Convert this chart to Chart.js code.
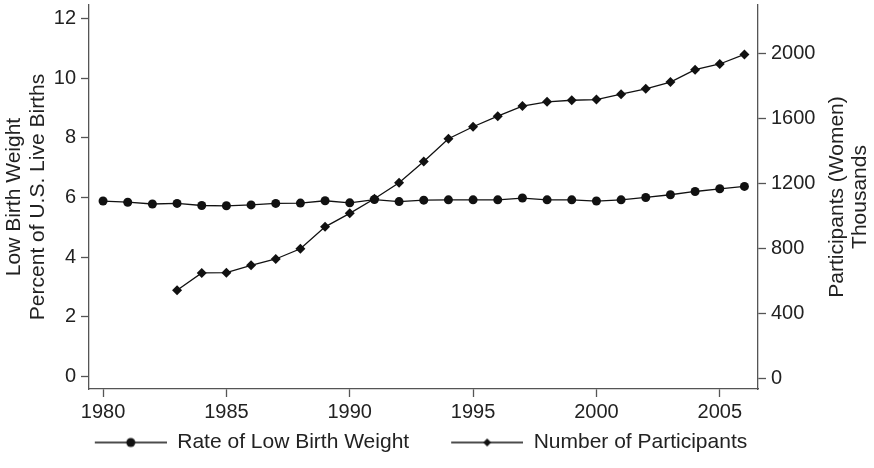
<!DOCTYPE html>
<html>
<head>
<meta charset="utf-8">
<title>Low Birth Weight and Participants</title>
<script src="https://cdn.jsdelivr.net/npm/chart.js@4.4.1/dist/chart.umd.min.js"></script>
<style>
  html, body { margin: 0; padding: 0; background: #fff; }
</style>
</head>
<body>
<canvas id="myChart" width="874" height="468"></canvas>
<script>
const years = [1980, 1981, 1982, 1983, 1984, 1985, 1986, 1987, 1988, 1989,
  1990, 1991, 1992, 1993, 1994, 1995, 1996, 1997, 1998, 1999,
  2000, 2001, 2002, 2003, 2004, 2005, 2006];
// percent of U.S. live births
const lowBirthWeight = [5.88, 5.84, 5.78, 5.80, 5.73, 5.72, 5.75, 5.80, 5.81, 5.89,
  5.82, 5.93, 5.86, 5.91, 5.92, 5.92, 5.92, 5.98, 5.92, 5.92,
  5.88, 5.92, 6.00, 6.09, 6.20, 6.29, 6.37];
// participants (women), thousands
const participants = [null, null, null, 541, 647, 649, 694, 733, 796, 931,
  1014, 1104, 1202, 1333, 1473, 1547, 1612, 1674, 1700, 1710,
  1714, 1747, 1780, 1822, 1898, 1933, 1992];
const xTicks = [1980, 1985, 1990, 1995, 2000, 2005];
const leftTicks = [0, 2, 4, 6, 8, 10, 12];
const rightTicks = [0, 400, 800, 1200, 1600, 2000];

const fontFamily = '"Liberation Sans", Arial, Helvetica, sans-serif';
const textColor = '#222';
const axisColor = '#555';
const lineColor = '#111';

function toPoints(values) {
  return years.map((y, i) => ({ x: y, y: values[i] })).filter(p => p.y !== null);
}

// line + marker picture for the legend, with some empty room on the left
function legendSwatch(style) {
  const c = document.createElement('canvas');
  c.width = 102;
  c.height = 14;
  const g = c.getContext('2d');
  g.strokeStyle = lineColor;
  g.lineWidth = 1.3;
  g.beginPath();
  g.moveTo(30, 7);
  g.lineTo(102, 7);
  g.stroke();
  g.fillStyle = lineColor;
  g.beginPath();
  if (style === 'circle') {
    g.arc(66, 7, 4.5, 0, Math.PI * 2);
  } else {
    g.moveTo(66, 3);
    g.lineTo(70, 7);
    g.lineTo(66, 11);
    g.lineTo(62, 7);
    g.closePath();
  }
  g.fill();
  return c;
}

const rightTitle = {
  id: 'rightTitle',
  afterLayout(chart) {
    // nudge the legend so the visible part sits under the plot
    chart.legend.left -= 15;
    chart.legend.right -= 15;
  },
  afterDraw(chart) {
    const ctx = chart.ctx;
    const area = chart.chartArea;
    const midY = (area.top + area.bottom) / 2;
    ctx.save();
    ctx.font = '21px ' + fontFamily;
    ctx.fillStyle = textColor;
    ctx.textAlign = 'center';
    ctx.textBaseline = 'middle';
    [['Participants (Women)', area.right + 79], ['Thousands', area.right + 102]].forEach(([t, x]) => {
      ctx.save();
      ctx.translate(x, midY);
      ctx.rotate(-Math.PI / 2);
      ctx.fillText(t, 0, 0);
      ctx.restore();
    });
    ctx.restore();
  }
};

const axisGrid = {
  drawOnChartArea: false,
  drawTicks: true,
  tickLength: 8,
  tickColor: axisColor,
  tickWidth: 1.3
};
const axisBorder = { display: true, color: axisColor, width: 1.3 };
const tickFont = { family: fontFamily, size: 20 };

const ctx = document.getElementById('myChart').getContext('2d');
window.myChart = new Chart(ctx, {
  type: 'line',
  data: {
    datasets: [
      {
        label: 'Rate of Low Birth Weight',
        data: toPoints(lowBirthWeight),
        yAxisID: 'y',
        borderColor: lineColor,
        backgroundColor: lineColor,
        borderWidth: 1.3,
        pointStyle: 'circle',
        pointRadius: 4.5,
        pointBorderWidth: 0,
        tension: 0
      },
      {
        label: 'Number of Participants',
        data: toPoints(participants),
        yAxisID: 'y1',
        borderColor: lineColor,
        backgroundColor: lineColor,
        borderWidth: 1.3,
        pointStyle: 'rectRot',
        pointRadius: 5,
        pointBorderWidth: 0,
        tension: 0
      }
    ]
  },
  options: {
    responsive: false,
    animation: false,
    layout: { padding: { top: 3, left: 0, right: 32, bottom: 5 } },
    scales: {
      x: {
        type: 'linear',
        min: 1979.43,
        max: 2006.55,
        grid: axisGrid,
        border: axisBorder,
        ticks: {
          color: textColor,
          font: tickFont,
          padding: 3,
          maxRotation: 0,
          callback: v => String(v)
        },
        afterBuildTicks: s => { s.ticks = xTicks.map(v => ({ value: v })); },
        afterFit: s => { s.height = 31; s.paddingLeft = 0; s.paddingRight = 0; }
      },
      y: {
        position: 'left',
        min: -0.42,
        max: 12.45,
        grid: axisGrid,
        border: axisBorder,
        ticks: { color: textColor, font: tickFont, padding: 5 },
        afterBuildTicks: s => { s.ticks = leftTicks.map(v => ({ value: v })); },
        afterFit: s => { s.width = 89; s.paddingTop = 0; s.paddingBottom = 0; },
        title: {
          display: true,
          text: ['Low Birth Weight', 'Percent of U.S. Live Births'],
          color: textColor,
          font: { family: fontFamily, size: 21, lineHeight: 1.15 },
          padding: { top: 2, bottom: 0 }
        }
      },
      y1: {
        position: 'right',
        min: -67,
        max: 2296,
        grid: axisGrid,
        border: axisBorder,
        ticks: { color: textColor, font: tickFont, padding: 5, callback: v => String(v) },
        afterBuildTicks: s => { s.ticks = rightTicks.map(v => ({ value: v })); },
        afterFit: s => { s.width = 84; s.paddingTop = 0; s.paddingBottom = 0; }
      }
    },
    plugins: {
      tooltip: { enabled: false },
      legend: {
        position: 'bottom',
        labels: {
          color: textColor,
          font: { family: fontFamily, size: 21 },
          usePointStyle: true,
          pointStyleWidth: 102,
          padding: 12,
          generateLabels: chart => {
            const items = Chart.defaults.plugins.legend.labels.generateLabels(chart);
            items.forEach(item => {
              item.pointStyle = legendSwatch(item.datasetIndex === 0 ? 'circle' : 'diamond');
            });
            return items;
          }
        }
      }
    }
  },
  plugins: [rightTitle]
});
</script>
</body>
</html>
